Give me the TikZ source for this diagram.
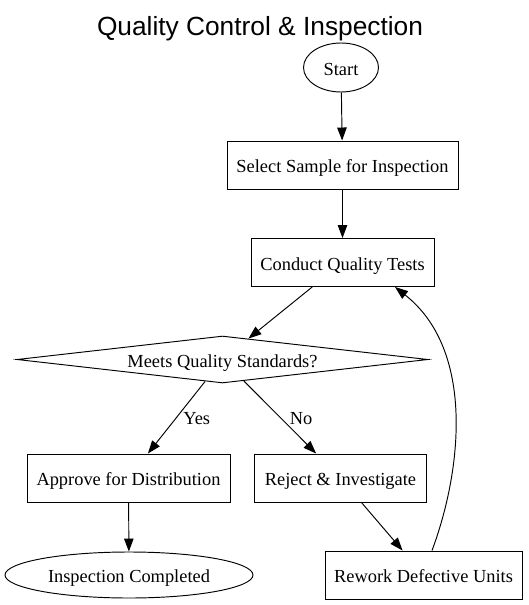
\documentclass[tikz,border=0pt]{standalone}
\usepackage{fontspec}
\setmainfont{Liberation Serif}
\newfontfamily\titlefont{Liberation Sans}
\usetikzlibrary{arrows.meta,shapes.geometric}

\begin{document}
\begin{tikzpicture}[x=1pt,y=-1pt,line width=0.95pt,>={Triangle[length=13pt,width=9.5pt]},
  every node/.style={font=\fontsize{18.4}{22}\selectfont,text height=15pt,text depth=0pt},
  procbox/.style={draw,rectangle,inner sep=0pt,minimum height=48pt},
  termnode/.style={draw,ellipse,inner sep=0pt},
  decnode/.style={draw,diamond,inner sep=2pt,shape aspect=8.7,minimum width=411pt,minimum height=47pt}]
\useasboundingbox (0,0) rectangle (528,605);
\node[anchor=base,font=\titlefont\fontsize{26.3}{30}\selectfont] (title) at (260,35) {Quality Control \& Inspection};
% main flow
\node[termnode,minimum width=75pt,minimum height=49pt] (start) at (341,67.5) {Start};
\node[procbox,minimum width=231pt] (select) at (342.5,165) {Select Sample for Inspection};
\node[procbox,minimum width=183pt] (conduct) at (342.5,262.5) {Conduct Quality Tests};
\node[decnode] (check) at (222.5,359.5) {Meets Quality Standards?};
\node[procbox,minimum width=203pt] (approve) at (128.5,478) {Approve for Distribution};
\node[procbox,minimum width=172pt] (reject) at (340.5,478) {Reject \& Investigate};
\node[termnode,minimum width=248pt,minimum height=46pt] (done) at (129,575) {Inspection Completed};
\node[procbox,minimum width=197pt] (rework) at (423.5,575) {Rework Defective Units};
% connectors
\draw[->] (start)--(select);
\draw[->] (select)--(conduct);
\draw[->] (conduct)--(check);
\draw[->] (check)--node[midway,right=3pt] (yes) {Yes} (approve);
\draw[->] (check)--node[midway,right=6pt] (no) {No} (reject);
\draw[->] (approve)--(done);
\draw[->] (reject)--(rework);
\draw[->] ([xshift=8.5pt]rework.north) .. controls (462,470) and (475,350) .. ([xshift=52.5pt]conduct.south);
\end{tikzpicture}
\end{document}
